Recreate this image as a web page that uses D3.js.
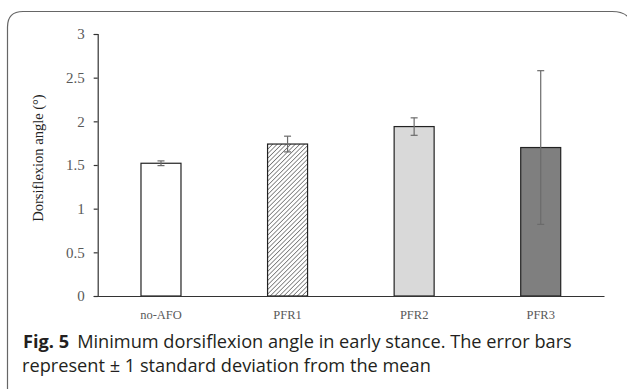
<!DOCTYPE html>
<html>
<head>
<meta charset="utf-8">
<script src="https://cdn.jsdelivr.net/npm/d3@7"></script>
<style>
  body { margin: 0; background: #fff; }
</style>
</head>
<body>
<div id="chart"></div>
<script>
let categories = ["no-AFO", "PFR1", "PFR2", "PFR3"];
let means = [1.52, 1.74, 1.94, 1.70];
let sds = [0.027, 0.09, 0.10, 0.88];
let yTicks = [0, 0.5, 1, 1.5, 2, 2.5, 3];
let fills = ["#ffffff", "url(#hatch)", "#d9d9d9", "#7f7f7f"];

let width = 627, height = 389;
let svg = d3.select("#chart").append("svg")
  .attr("width", width)
  .attr("height", height)
  .style("display", "block");

// hatch pattern for PFR1
let pat = svg.append("defs").append("pattern")
  .attr("id", "hatch")
  .attr("patternUnits", "userSpaceOnUse")
  .attr("width", 3.2)
  .attr("height", 3.2)
  .attr("patternTransform", "rotate(45)");
pat.append("rect").attr("width", 3.2).attr("height", 3.2).attr("fill", "#fff");
pat.append("line")
  .attr("x1", 0).attr("y1", 0).attr("x2", 0).attr("y2", 3.2)
  .attr("stroke", "#555").attr("stroke-width", 1.3);

// rounded frame (bottom runs off the page)
svg.append("path")
  .attr("d", "M7.5,400 L7.5,27 Q7.5,11.5 23,11.5 L612,11.5 Q626,11.5 630,20")
  .attr("fill", "none")
  .attr("stroke", "#666")
  .attr("stroke-width", 1.2);

let margin = { left: 97.7, right: 604, top: 34, bottom: 296 };

let x = d3.scaleBand()
  .domain(categories)
  .range([margin.left, margin.right])
  .paddingInner(0.684)
  .paddingOuter(0.342);

let y = d3.scaleLinear()
  .domain([0, 3])
  .range([margin.bottom, margin.top]);

let serif = "'Liberation Serif', 'DejaVu Serif', serif";

// y axis
let yAxis = svg.append("g")
  .attr("transform", `translate(${margin.left},0)`)
  .call(d3.axisLeft(y).tickValues(yTicks).tickFormat(d3.format("~g")).tickSize(4).tickPadding(9));
yAxis.select(".domain").attr("stroke", "#333").attr("stroke-width", 1.2);
yAxis.selectAll(".tick line").attr("stroke", "#333").attr("stroke-width", 1.2);
yAxis.selectAll(".tick text")
  .attr("fill", "#595959")
  .style("font-family", serif)
  .style("font-size", "15px");

// bars
svg.append("g").selectAll("rect")
  .data(categories)
  .join("rect")
  .attr("x", (d) => x(d))
  .attr("y", (d, i) => y(means[i]))
  .attr("width", x.bandwidth())
  .attr("height", (d, i) => y(0) - y(means[i]))
  .attr("fill", (d, i) => fills[i])
  .attr("stroke", "#222")
  .attr("stroke-width", 1.2);

// error bars
let err = svg.append("g")
  .attr("stroke", "#6b6b6b")
  .attr("stroke-width", 1.2);
categories.forEach((c, i) => {
  let cx = x(c) + x.bandwidth() / 2;
  let hi = y(means[i] + sds[i]);
  let lo = y(means[i] - sds[i]);
  err.append("line").attr("x1", cx).attr("x2", cx).attr("y1", hi).attr("y2", lo);
  err.append("line").attr("x1", cx - 3.5).attr("x2", cx + 3.5).attr("y1", hi).attr("y2", hi);
  err.append("line").attr("x1", cx - 3.5).attr("x2", cx + 3.5).attr("y1", lo).attr("y2", lo);
});

// x axis
let xAxis = svg.append("g")
  .attr("transform", `translate(0,${margin.bottom})`)
  .call(d3.axisBottom(x).tickSize(0).tickPadding(14));
xAxis.select(".domain").attr("stroke", "#333").attr("stroke-width", 1.2);
xAxis.selectAll(".tick text")
  .attr("fill", "#595959")
  .style("font-family", serif)
  .style("font-size", "12.5px");

// y title
svg.append("text")
  .attr("transform", "translate(43,158) rotate(-90)")
  .attr("text-anchor", "middle")
  .style("font-family", serif)
  .style("font-size", "14.5px")
  .attr("fill", "#222")
  .text("Dorsiflexion angle (°)");

// caption
let cap = svg.append("g")
  .style("font-family", "'Open Sans', 'Noto Sans', sans-serif")
  .style("font-size", "18.2px")
  .attr("fill", "#231f20");
let l1 = cap.append("text").attr("x", 23).attr("y", 348);
l1.append("tspan").style("font-weight", "700").text("Fig. 5");
l1.append("tspan").attr("dx", 8).text("Minimum dorsiflexion angle in early stance. The error bars");
cap.append("text").attr("x", 22).attr("y", 372)
  .text("represent ± 1 standard deviation from the mean");
</script>
</body>
</html>
